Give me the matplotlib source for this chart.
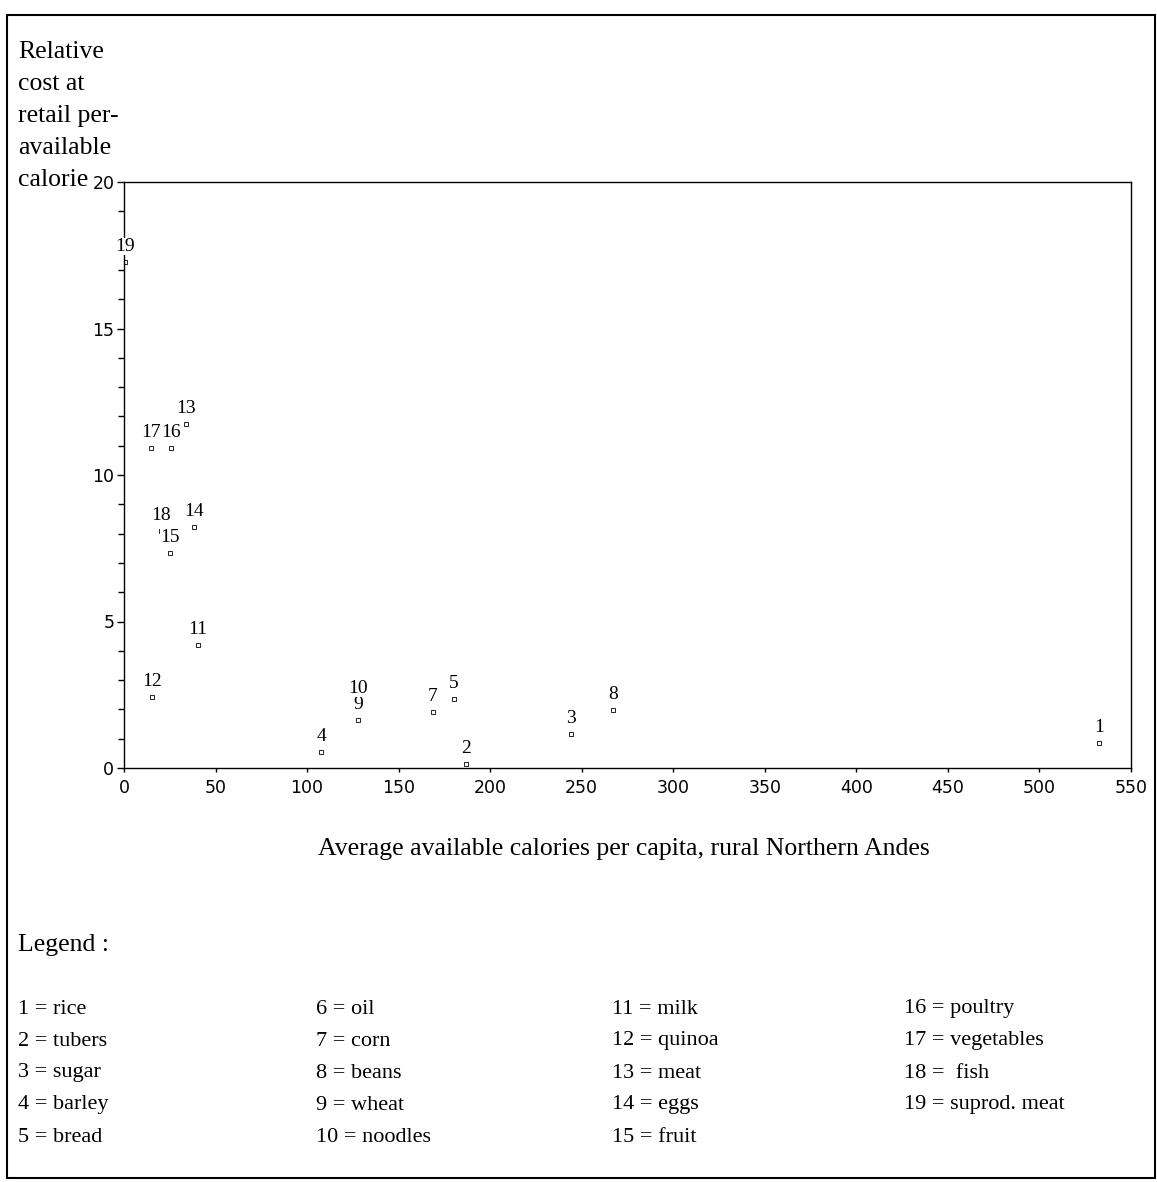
import matplotlib.pyplot as plt
from matplotlib.patches import Rectangle
from matplotlib.ticker import MultipleLocator

# foods: calories per capita (x) vs relative cost per calorie (y)
food_ids = [1, 2, 3, 4, 5, 7, 8, 9, 10, 11, 12, 13, 14, 15, 16, 17, 18, 19]
calories = [532.5, 186.8, 244.1, 107.6, 180.2, 168.8, 267.0, 127.8, 127.8,
            40.4, 15.3, 33.9, 38.2, 25.1, 25.7, 14.7, 20.2, 0.5]
rel_cost = [0.85, 0.14, 1.16, 0.55, 2.35, 1.91, 1.98, 1.64, 2.18,
            4.20, 2.42, 11.74, 8.23, 7.34, 10.92, 10.92, 8.09, 17.27]

legend_cols = [
    ["1 = rice", "2 = tubers", "3 = sugar", "4 = barley", "5 = bread"],
    ["6 = oil", "7 = corn", "8 = beans", "9 = wheat", "10 = noodles"],
    ["11 = milk", "12 = quinoa", "13 = meat", "14 = eggs", "15 = fruit"],
    ["16 = poultry", "17 = vegetables", "18 =  fish", "19 = suprod. meat"],
]
ylabel_lines = ["Relative", "cost at", "retail per-", "available", "calorie"]

serif = "Liberation Serif"
W, H = 1157, 1182
fig = plt.figure(figsize=(W / 100, H / 100), dpi=100)

# outer frame
fig.add_artist(Rectangle((7 / W, 1 - 1178 / H), 1148 / W, 1163 / H,
                         transform=fig.transFigure, fill=False,
                         lw=1.5, ec="black"))

ax = fig.add_axes([124 / W, 1 - 768 / H, 1007 / W, 586 / H])
ax.plot(calories, rel_cost, ls="none", marker="s", ms=3.3, mfc="white",
        mec="black", mew=0.6, zorder=2)
for i, x, y in zip(food_ids, calories, rel_cost):
    ax.annotate(str(i), (x, y), xytext=(0, 11), textcoords="offset points",
                ha="center", va="center", family=serif, fontsize=14,
                zorder=3,
                bbox=dict(boxstyle="square,pad=0", fc="white", ec="none"))

ax.set_xlim(0, 550)
ax.set_ylim(0, 20)
ax.xaxis.set_major_locator(MultipleLocator(50))
ax.yaxis.set_major_locator(MultipleLocator(5))
ax.yaxis.set_minor_locator(MultipleLocator(1))
ax.tick_params(axis="y", which="major", length=5, width=1, pad=2,
               labelsize=12.5)
ax.tick_params(axis="y", which="minor", length=4, width=1)
ax.tick_params(axis="x", length=3, width=1, pad=5, labelsize=12.5)
for lab in ax.get_xticklabels() + ax.get_yticklabels():
    lab.set_family("DejaVu Sans")
for sp in ax.spines.values():
    sp.set_linewidth(1)

# y axis title block, top left
for k, line in enumerate(ylabel_lines):
    fig.text(18 / W, 1 - (52 + 32 * k) / H, line, family=serif,
             fontsize=18.5, va="center", ha="left")

fig.text(624 / W, 1 - 849 / H,
         "Average available calories per capita, rural Northern Andes",
         family=serif, fontsize=18.5, ha="center", va="center")

fig.text(18 / W, 1 - 945 / H, "Legend :", family=serif, fontsize=18.5,
         ha="left", va="center")
col_x = [18, 316, 612, 904]
for cx, col in zip(col_x, legend_cols):
    for r, item in enumerate(col):
        fig.text(cx / W, 1 - (1009 + 32 * r) / H, item, family=serif,
                 fontsize=16, ha="left", va="center")

fig.savefig("out.png", dpi=100)
